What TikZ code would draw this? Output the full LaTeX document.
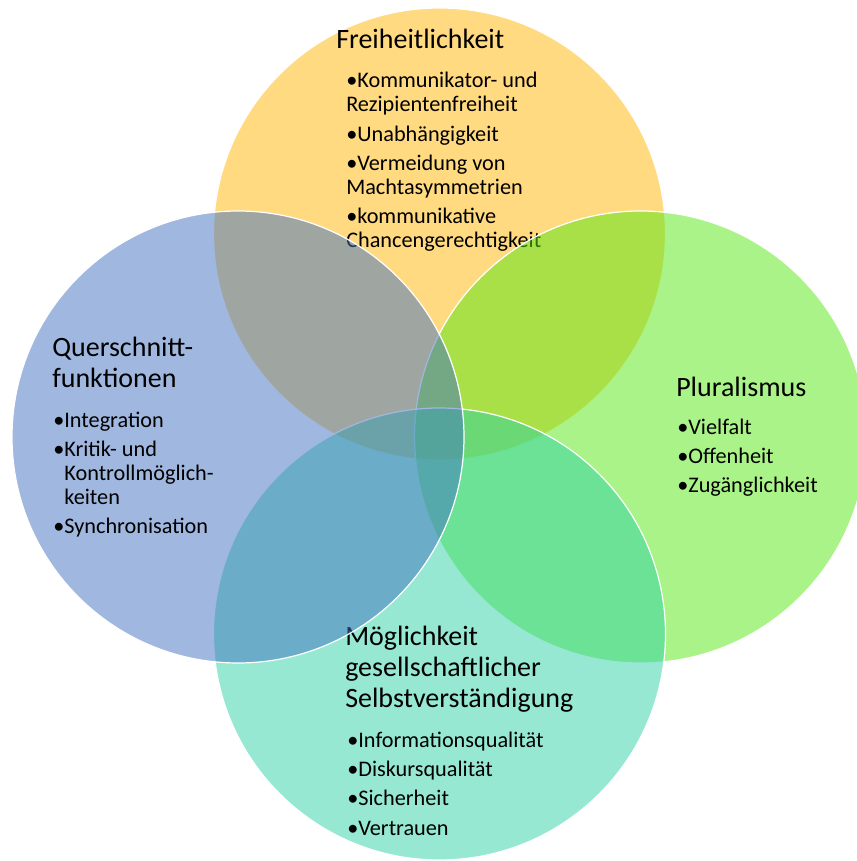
\documentclass[tikz,border=0pt]{standalone}
\usepackage{fontspec}
\setmainfont{Carlito}
\usetikzlibrary{positioning}
\definecolor{sunyellow}{RGB}{255, 181, 1}
\definecolor{leafgreen}{RGB}{85, 231, 17}
\definecolor{mintteal}{RGB}{45, 209, 165}
\definecolor{skyblue}{RGB}{65, 113, 193}
\tikzset{
  venncircle/.style={draw=white, line width=0.9pt, fill opacity=0.5},
  headtext/.style={anchor=base west, align=left, inner sep=0pt, font=\fontsize{21}{23.25}\selectfont},
  itemtext/.style={anchor=base west, align=left, inner sep=0pt, font=\fontsize{16.7}{18}\selectfont}
}
\begin{document}
\begin{tikzpicture}[x=0.75pt, y=0.75pt]
    \useasboundingbox (0,0) rectangle (857,861);
    \clip (0,0) rectangle (857,861);
    % Freiheitlichkeit
    \path[venncircle, fill=sunyellow] (439.5,627) circle (169.5pt);
    \node[headtext] (freiheit) at (336,812) {Freiheitlichkeit};
    \node[itemtext] (freiheitlist) at (346,613) {•Kommunikator- und\\Rezipientenfreiheit\\[4pt]•Unabhängigkeit\\[4pt]•Vermeidung von\\Machtasymmetrien\\[4pt]•kommunikative\\Chancengerechtigkeit};
    % Pluralismus
    \path[venncircle, fill=leafgreen] (640.5,424) circle (169.5pt);
    \node[headtext] (plural) at (676,464) {Pluralismus};
    \node[itemtext] (plurallist) at (677,368) {•Vielfalt\\[4pt]•Offenheit\\[4pt]•Zugänglichkeit};
    % Selbstverstaendigung
    \path[venncircle, fill=mintteal] (439.5,227) circle (169.5pt);
    \node[headtext] (selbst) at (345,153) {Möglichkeit\\gesellschaftlicher\\Selbstverständigung};
    \node[itemtext] (selbstlist) at (347,26) {•Informationsqualität\\[4pt]•Diskursqualität\\[4pt]•Sicherheit\\[4pt]•Vertrauen};
    % Querschnittfunktionen
    \path[venncircle, fill=skyblue] (238,424) circle (169.5pt);
    \node[headtext] (quer) at (52,473) {Querschnitt-\\funktionen};
    \node[itemtext] (querlist) at (53,327) {•Integration\\[4pt]•Kritik- und\\\phantom{•}Kontrollmöglich-\\\phantom{•}keiten\\[4pt]•Synchronisation};
\end{tikzpicture}
\end{document}
